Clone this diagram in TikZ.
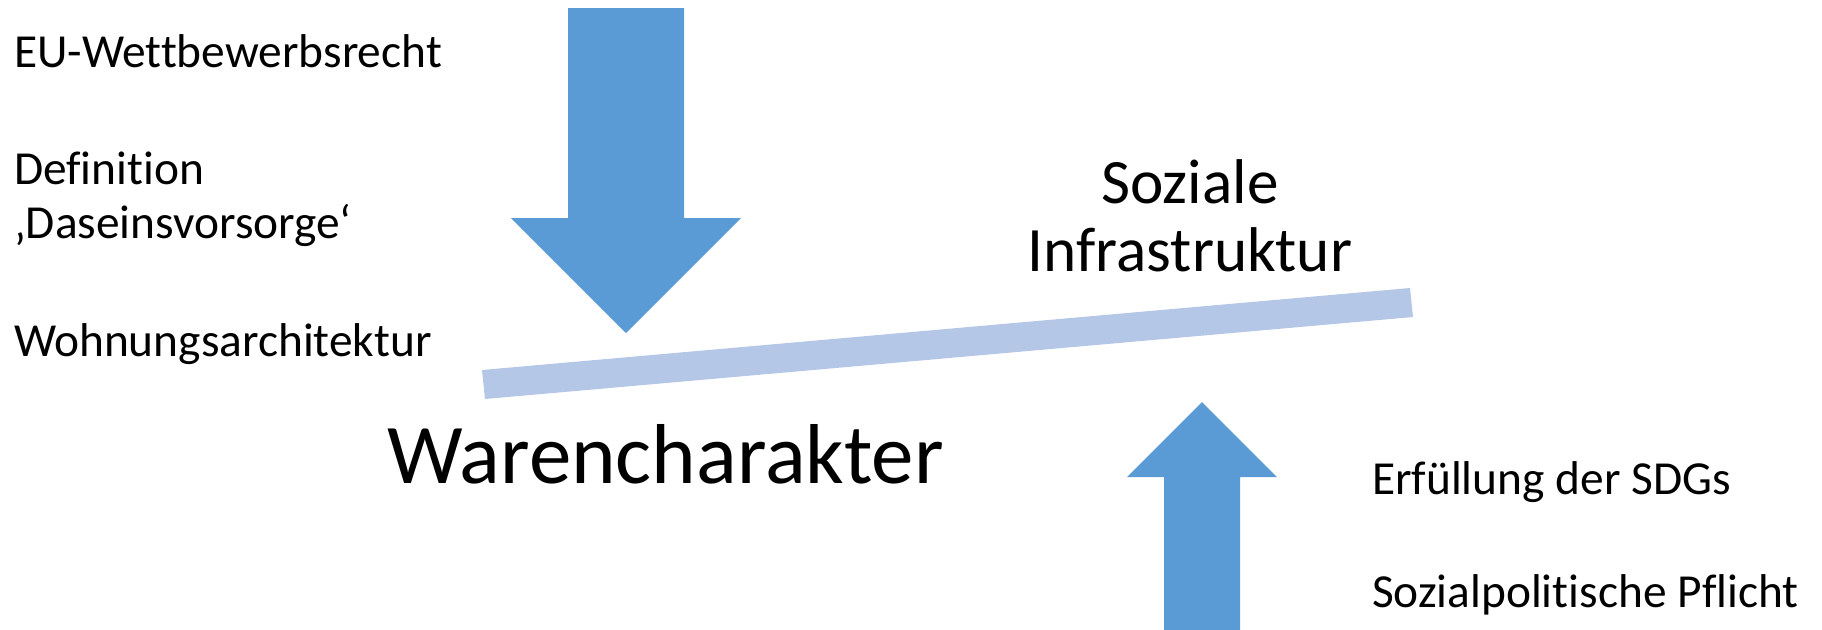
\documentclass[tikz,border=0pt]{standalone}
\usepackage{fontspec}
\setmainfont{Carlito}[Ligatures=NoCommon]
\definecolor{arrowblue}{HTML}{5B9BD5}
\definecolor{beamblue}{HTML}{B4C7E7}
\begin{document}
\begin{tikzpicture}[x=0.5pt,y=-0.5pt,
  label/.style={inner sep=0pt,outer sep=0pt,anchor=base west,font=\fontsize{23.7}{28}\selectfont},
  big/.style={inner sep=0pt,outer sep=0pt,anchor=base,font=\fontsize{31.6}{38}\selectfont},
  huge/.style={inner sep=0pt,outer sep=0pt,anchor=base west,font=\fontsize{42.5}{50}\selectfont},
  blockarrow/.style={fill=arrowblue,draw=none}]
\useasboundingbox (0,0) rectangle (1822,629);

% downward pressure arrow
\fill[blockarrow] (568,8) -- (684,8) -- (684,218) -- (741,218) -- (626,333)
  -- (511,218) -- (568,218) -- cycle;
% upward pressure arrow
\fill[blockarrow] (1202,402) -- (1277,477) -- (1240,477) -- (1240,640)
  -- (1164,640) -- (1164,477) -- (1127,477) -- cycle;
% tilted beam
\fill[beamblue] (482,370) -- (1410,288) -- (1413,317) -- (485,399) -- cycle;

% left-hand factors
\node[label] (eu)   at (14,67)  {EU-Wettbewerbsrecht};
\node[label] (def)  at (14,184) {Definition};
\node[label] (dav)  at (14,238) {‚Daseinsvorsorge‘};
\node[label] (wohn) at (14,356) {Wohnungsarchitektur};

% right-hand factors
\node[label] (sdg)  at (1372,494) {Erfüllung der SDGs};
\node[label] (pfl)  at (1372,607) {Sozialpolitische Pflicht};

% the two ends of the beam
\node[big] (soz)   at (1190,203) {Soziale};
\node[big] (infra) at (1190,271) {Infrastruktur};
\node[huge] (ware) at (387,483) {Warencharakter};
\end{tikzpicture}
\end{document}
